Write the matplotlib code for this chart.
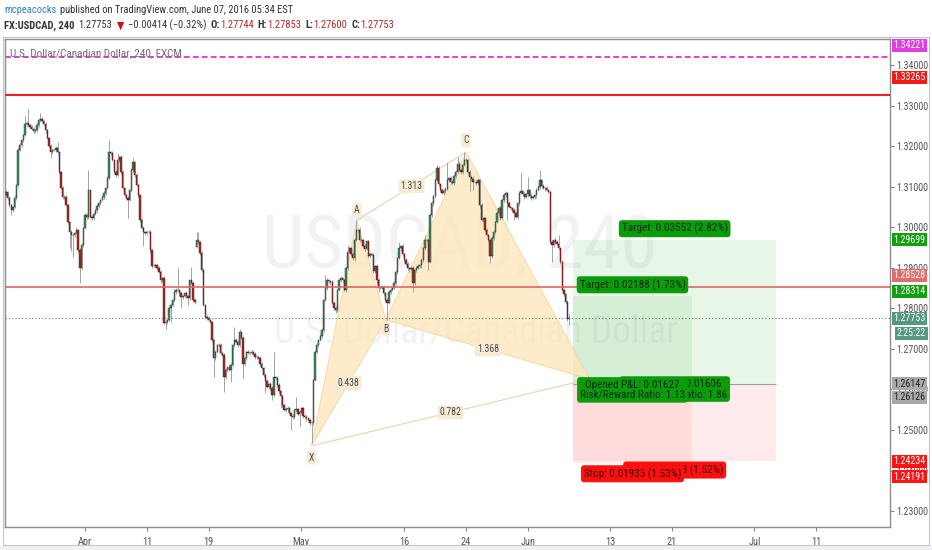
import numpy as np
import matplotlib
matplotlib.use('Agg')
import matplotlib.pyplot as plt
import matplotlib.font_manager as fm
from matplotlib.patches import Rectangle, Polygon
from matplotlib.offsetbox import TextArea, HPacker, AnchoredOffsetbox

_names = {f.name for f in fm.fontManager.ttflist}
NARROW = next((n for n in ['Liberation Sans Narrow', 'Roboto Condensed', 'DejaVu Sans'] if n in _names), 'DejaVu Sans')
FAM = [NARROW, 'DejaVu Sans']
plt.rcParams['font.family'] = FAM
plt.rcParams['font.stretch'] = 'condensed'

# ---- 4H candles, USDCAD, first bar = 3rd slot of 2016-03-22 ----
first_session = '2016-03-22'
first_slot = 2
closes = [
    1.3088, 1.3073, 1.3055, 1.3043, 1.3050, 1.3073, 1.3105, 1.3191, 1.3204, 1.3216,
    1.3228, 1.3256, 1.3258, 1.3253, 1.3248, 1.3243, 1.3238, 1.3240, 1.3253, 1.3265,
    1.3268, 1.3263, 1.3256, 1.3240, 1.3221, 1.3201, 1.3186, 1.3191, 1.3191, 1.3196,
    1.3186, 1.3137, 1.3097, 1.3075, 1.3075, 1.3055, 1.3013, 1.2989, 1.2981, 1.2981,
    1.2986, 1.2994, 1.2944, 1.2900, 1.2957, 1.2999, 1.3031, 1.3026, 1.3093, 1.3026,
    1.3023, 1.3033, 1.3043, 1.3053, 1.3060, 1.3068, 1.3075, 1.3085, 1.3097, 1.3122,
    1.3186, 1.3184, 1.3167, 1.3137, 1.3130, 1.3167, 1.3174, 1.3137, 1.3097, 1.3080,
    1.3073, 1.3068, 1.3093, 1.3142, 1.3162, 1.3130, 1.3105, 1.3080, 1.3018, 1.2999,
    1.2989, 1.2986, 1.2989, 1.2989, 1.2944, 1.2905, 1.2905, 1.2907, 1.2900, 1.2890,
    1.2870, 1.2875, 1.2764, 1.2767, 1.2772, 1.2801, 1.2808, 1.2821, 1.2841, 1.2846,
    1.2846, 1.2838, 1.2828, 1.2830, 1.2838, 1.2830, 1.2826, 1.2870, 1.2863, 1.2821,
    1.2816, 1.2969, 1.2964, 1.2937, 1.2895, 1.2808, 1.2779, 1.2777, 1.2772, 1.2767,
    1.2722, 1.2678, 1.2693, 1.2710, 1.2710, 1.2690, 1.2685, 1.2631, 1.2648, 1.2656,
    1.2648, 1.2661, 1.2710, 1.2722, 1.2717, 1.2710, 1.2742, 1.2727, 1.2663, 1.2678,
    1.2693, 1.2690, 1.2690, 1.2693, 1.2688, 1.2680, 1.2680, 1.2678, 1.2663, 1.2653,
    1.2636, 1.2621, 1.2606, 1.2613, 1.2604, 1.2586, 1.2631, 1.2628, 1.2611, 1.2596,
    1.2584, 1.2561, 1.2549, 1.2551, 1.2554, 1.2542, 1.2534, 1.2532, 1.2549, 1.2551,
    1.2539, 1.2544, 1.2554, 1.2534, 1.2532, 1.2529, 1.2524, 1.2517, 1.2517, 1.2623,
    1.2693, 1.2710, 1.2722, 1.2732, 1.2747, 1.2821, 1.2851, 1.2870, 1.2868, 1.2865,
    1.2814, 1.2801, 1.2796, 1.2846, 1.2870, 1.2875, 1.2870, 1.2846, 1.2900, 1.2939,
    1.2949, 1.2934, 1.2924, 1.2969, 1.2994, 1.2994, 1.2969, 1.2969, 1.2954, 1.2947,
    1.2966, 1.2929, 1.2934, 1.2932, 1.2892, 1.2905, 1.2870, 1.2851, 1.2851, 1.2853,
    1.2838, 1.2821, 1.2814, 1.2841, 1.2846, 1.2851, 1.2863, 1.2890, 1.2924, 1.2949,
    1.2954, 1.2934, 1.2919, 1.2910, 1.2900, 1.2897, 1.2900, 1.2863, 1.2895, 1.2900,
    1.2905, 1.2907, 1.2919, 1.2949, 1.2969, 1.2969, 1.2915, 1.3031, 1.3060, 1.3077,
    1.3117, 1.3147, 1.3107, 1.3093, 1.3085, 1.3090, 1.3095, 1.3117, 1.3122, 1.3112,
    1.3110, 1.3127, 1.3137, 1.3157, 1.3142, 1.3137, 1.3154, 1.3167, 1.3167, 1.3137,
    1.3125, 1.3120, 1.3112, 1.3112, 1.3110, 1.3117, 1.3055, 1.3018, 1.3023, 1.2994,
    1.2981, 1.2969, 1.2929, 1.2974, 1.2989, 1.3013, 1.3036, 1.3048, 1.3023, 1.3068,
    1.3080, 1.3085, 1.3060, 1.3050, 1.3048, 1.3043, 1.3036, 1.3026, 1.3060, 1.3085,
    1.3090, 1.3082, 1.3075, 1.3082, 1.3093, 1.3078, 1.3073, 1.3075, 1.3080, 1.3093,
    1.3100, 1.3117, 1.3102, 1.3097, 1.3097, 1.3093, 1.3088, 1.2964, 1.2957, 1.2969,
    1.2964, 1.2959, 1.2949, 1.2915, 1.2846, 1.2836, 1.2816, 1.2774, 1.27753,
]
# upper / lower wick beyond the body, in pips
up_wick = [
    4, 3, 5, 3, 4, 6, 3, 5, 4, 3, 4, 20, 5, 35, 3, 4, 5, 3, 4, 6,
    15, 4, 3, 5, 4, 3, 6, 4, 3, 5, 15, 4, 3, 5, 4, 6, 3, 4, 5, 3,
    4, 6, 3, 5, 4, 3, 5, 4, 50, 3, 4, 5, 3, 6, 4, 3, 5, 4, 3, 6,
    30, 4, 5, 3, 4, 17, 3, 5, 4, 3, 6, 4, 3, 5, 10, 3, 4, 6, 3, 5,
    4, 3, 5, 4, 6, 3, 4, 5, 3, 4, 5, 3, 6, 4, 3, 5, 4, 3, 6, 4,
    54, 3, 5, 4, 3, 6, 4, 3, 32, 5, 4, 20, 20, 3, 5, 4, 3, 6, 4, 5,
    3, 4, 5, 3, 6, 4, 3, 5, 4, 3, 6, 4, 3, 32, 5, 4, 8, 3, 5, 4,
    3, 5, 4, 6, 3, 4, 5, 3, 4, 6, 3, 5, 4, 3, 5, 4, 62, 3, 5, 4,
    3, 6, 4, 3, 5, 4, 3, 6, 4, 30, 3, 5, 4, 3, 6, 4, 3, 5, 4, 3,
    5, 4, 3, 6, 4, 3, 32, 5, 4, 3, 5, 4, 6, 3, 4, 5, 3, 4, 6, 17,
    4, 3, 5, 4, 25, 3, 6, 4, 3, 5, 4, 3, 6, 4, 5, 3, 4, 6, 3, 5,
    4, 3, 5, 4, 6, 3, 4, 5, 3, 15, 4, 6, 3, 5, 4, 3, 6, 4, 3, 5,
    4, 3, 6, 4, 12, 5, 3, 4, 6, 3, 5, 8, 4, 3, 5, 4, 6, 45, 3, 4,
    5, 3, 4, 17, 6, 3, 5, 20, 4, 3, 5, 4, 6, 3, 4, 5, 3, 6, 4, 3,
    5, 4, 3, 6, 4, 3, 5, 4, 6, 3, 4, 5, 3, 6, 4, 3, 5, 4, 3, 6,
    44, 3, 5, 4, 32, 3, 6, 4, 3, 5, 4, 25, 3, 5, 4, 6, 3, 4, 5, 3,
    4, 6, 22, 3, 5, 4, 3, 4, 10,
]
dn_wick = [
    3, 5, 4, 12, 5, 3, 4, 6, 3, 5, 4, 3, 5, 4, 6, 3, 4, 5, 3, 4,
    5, 3, 4, 6, 3, 5, 15, 4, 3, 5, 4, 6, 3, 4, 5, 3, 4, 40, 40, 55,
    4, 3, 5, 37, 4, 6, 3, 5, 4, 3, 5, 4, 3, 6, 4, 5, 3, 4, 6, 3,
    4, 5, 3, 4, 6, 3, 5, 4, 3, 5, 4, 45, 3, 5, 4, 6, 3, 4, 5, 3,
    35, 4, 5, 3, 6, 4, 3, 5, 4, 3, 6, 4, 3, 15, 5, 4, 35, 3, 5, 4,
    3, 6, 27, 4, 3, 5, 17, 4, 3, 6, 4, 3, 5, 4, 6, 3, 4, 5, 3, 4,
    5, 47, 4, 3, 6, 4, 3, 37, 5, 4, 3, 30, 4, 5, 3, 6, 4, 3, 35, 4,
    5, 3, 4, 6, 3, 5, 4, 3, 5, 4, 6, 30, 3, 4, 5, 12, 4, 3, 6, 4,
    30, 5, 3, 4, 6, 3, 35, 4, 5, 3, 4, 30, 3, 5, 4, 6, 3, 4, 49, 5,
    3, 4, 6, 3, 5, 4, 3, 5, 4, 6, 3, 4, 8, 5, 3, 4, 6, 3, 5, 4,
    3, 5, 4, 6, 3, 4, 5, 3, 4, 6, 3, 5, 4, 3, 5, 4, 10, 10, 4, 3,
    5, 4, 42, 3, 6, 4, 3, 5, 4, 3, 6, 4, 5, 3, 4, 6, 3, 22, 4, 5,
    3, 4, 6, 3, 5, 4, 20, 3, 4, 6, 5, 3, 4, 5, 3, 6, 4, 3, 5, 4,
    3, 6, 4, 5, 3, 4, 6, 3, 5, 4, 35, 4, 20, 3, 5, 4, 6, 3, 4, 5,
    3, 4, 17, 5, 4, 6, 3, 5, 4, 3, 6, 4, 42, 3, 5, 4, 17, 3, 4, 6,
    3, 5, 4, 3, 6, 4, 5, 3, 4, 6, 3, 4, 5, 3, 6, 4, 3, 5, 42, 4,
    5, 3, 4, 6, 3, 4, 5, 4, 14,
]
# opens that differ from the previous close (first bar, weekend gap, last bar)
gap_opens = {0: 1.3080, 111: 1.2952, 328: 1.27744}
last_price = 1.27753

# x axis: trading days counted from 2016-04-01
tick_dates = ['2016-04-01', '2016-04-11', '2016-04-19', '2016-05-02', '2016-05-16',
              '2016-05-24', '2016-06-01', '2016-06-13', '2016-06-21', '2016-07-01', '2016-07-11']
tick_labels = ['Apr', '11', '19', 'May', '16', '24', 'Jun', '13', '21', 'Jul', '11']

# horizontal levels
level_magenta = 1.34221
level_red = 1.33265
level_salmon = 1.28528

# XABCD pattern (trading day, price)
pat_names = ['X', 'A', 'B', 'C', 'D']
pat_x = [22.0, 26.4, 29.2, 37.0, 49.0]
pat_y = [1.2461, 1.3018, 1.2772, 1.3186, 1.2626]
pat_ratios = [('X', 'B', '0.438'), ('A', 'C', '1.313'), ('B', 'D', '1.368'), ('X', 'D', '0.782')]

# two long-position tools
tool_start = [47.41, 47.41]
tool_end = [67.09, 58.9]
tool_entry = [1.26147, 1.26126]
tool_target = [1.29699, 1.28314]
tool_stop = [1.24234, 1.24191]

# ---------------------------------------------------------------
closes = np.array(closes)
n = len(closes)
opens = np.r_[closes[0], closes[:-1]]
for k, v in gap_opens.items():
    opens[k] = v
highs = np.maximum(opens, closes) + np.array(up_wick) * 1e-4
lows = np.minimum(opens, closes) - np.array(dn_wick) * 1e-4
day0 = np.busday_count('2016-04-01', first_session)
bar_x = day0 + (np.arange(n) + first_slot) / 6.0

W, H = 932, 550
L, R, T, B = 5, 890, 39, 527
fig = plt.figure(figsize=(W / 100, H / 100), dpi=100)
fig.patch.set_facecolor('white')
ax = fig.add_axes([L / W, 1 - B / H, (R - L) / W, (B - T) / H])
ax.set_xlim(-7.77, 78.16)
ax.set_ylim(1.22605, 1.34654)

# watermark
ax.text(0.514, 0.572, 'USDCAD, 240', transform=ax.transAxes, ha='center', va='center',
        fontsize=54, color='#7d8792', alpha=0.1, zorder=1.5)
ax.text(0.532, 0.398, 'U.S. Dollar/Canadian Dollar', transform=ax.transAxes, ha='center',
        va='center', fontsize=27, color='#7d8792', alpha=0.1, zorder=1.5)

# position tools
for i in range(2):
    x0, x1 = tool_start[i], tool_end[i]
    ax.add_patch(Rectangle((x0, tool_entry[i]), x1 - x0, tool_target[i] - tool_entry[i],
                           fc='#9ad69a', ec='none', alpha=0.22, zorder=1))
    ax.add_patch(Rectangle((x0, tool_stop[i]), x1 - x0, tool_entry[i] - tool_stop[i],
                           fc='#ffa8a8', ec='none', alpha=0.22, zorder=1))
    ax.hlines(tool_entry[i], x0, x1, color='#a0a0a0', lw=0.8, zorder=2)

# harmonic pattern
P = dict(zip(pat_names, zip(pat_x, pat_y)))
for tri in (['X', 'A', 'B'], ['B', 'C', 'D']):
    ax.add_patch(Polygon([P[k] for k in tri], closed=True, fc='#fde6bc', ec='#f2d6a2',
                         lw=0.8, alpha=0.8, zorder=2))
for a, b in (('A', 'C'), ('X', 'D')):
    ax.plot([P[a][0], P[b][0]], [P[a][1], P[b][1]], color='#ead8b6', lw=0.9, zorder=2)
for a, b, r in pat_ratios:
    mx, my = (P[a][0] + P[b][0]) / 2, (P[a][1] + P[b][1]) / 2
    ax.text(mx, my, r, ha='center', va='center', fontsize=7, color='#4a4a4a', zorder=6,
            bbox=dict(boxstyle='round,pad=0.2', fc='#f7ebd3', ec='none'))
for k, dy in zip(pat_names[:4], [-12, 10, -9, 12]):
    ax.annotate(k, P[k], xytext=(0, dy * 0.72), textcoords='offset points', ha='center',
                va='center', fontsize=7, color='#4a4a4a', zorder=6,
                bbox=dict(boxstyle='round,pad=0.2', fc='#f7ebd3', ec='none'))

# levels
ax.axhline(level_magenta, color='#e040e0', lw=1.4, ls=(0, (3, 1.6)), zorder=5)
ax.axhline(level_red, color='#ee2020', lw=1.5, zorder=5)
ax.axhline(level_salmon, color='#e06666', lw=1.2, zorder=5)
ax.axhline(last_price, color='#3f8a69', lw=0.8, ls=(0, (1, 2)), zorder=5)

# candles
up = closes >= opens
ax.vlines(bar_x, lows, highs, color='#a3a3a3', lw=0.7, zorder=3)
body_lo = np.minimum(opens, closes)
body_h = np.maximum(np.abs(closes - opens), 0.00008)
ax.bar(bar_x[up], body_h[up], bottom=body_lo[up], width=0.13, color='#3b8c62',
       edgecolor='#223328', lw=0.3, zorder=4)
ax.bar(bar_x[~up], body_h[~up], bottom=body_lo[~up], width=0.13, color='#b3261e',
       edgecolor='#331616', lw=0.3, zorder=4)

# position tool labels (wide tool first, narrow tool on top)
def tool_box(x, y, text, fc, tc, dy, z):
    ax.annotate(text, (x, y), xytext=(0, dy * 0.72), textcoords='offset points', ha='center',
                va='center', fontsize=8, color=tc, zorder=z, linespacing=1.0,
                bbox=dict(boxstyle='round,pad=0.25,rounding_size=0.3', fc=fc, ec='none'))

for i, z in ((0, 8), (1, 9)):
    mid = (tool_start[i] + tool_end[i]) / 2
    e, t, s = tool_entry[i], tool_target[i], tool_stop[i]
    tool_box(mid, t, f'Target: {t - e:.5f} ({(t - e) / e * 100:.2f}%)', '#0b9c0b', '#0f2a0f', 11, z)
    tool_box(mid, e, f'Opened P&L: {last_price - e:.5f}\nRisk/Reward Ratio: {(t - e) / (e - s):.2f}',
             '#0b9c0b', '#0f2a0f', -5.5, z)
    tool_box(mid, s, f'Stop: {e - s:.5f} ({(e - s) / e * 100:.2f}%)', '#ff1010', '#3a0000',
             -9 if i == 0 else -11, z)

# axes styling
for sp in ax.spines.values():
    sp.set_color('#8c8c8c')
    sp.set_linewidth(1.0)
ax.yaxis.tick_right()
ax.set_yticks(np.arange(1.23, 1.3451, 0.01))
ax.yaxis.set_major_formatter(plt.FuncFormatter(lambda v, p: f'{v:.5f}'))
ax.tick_params(axis='y', labelsize=7.2, labelcolor='#555555', color='#888888', length=3, pad=1.5)
ax.set_xticks([np.busday_count('2016-04-01', d) for d in tick_dates])
ax.set_xticklabels(tick_labels)
ax.tick_params(axis='x', labelsize=7.5, labelcolor='#555555', color='#888888', length=3, pad=4)

# price tags on the right scale
tags = [(level_magenta, f'{level_magenta:.5f}', '#e03ee0', 'white', -11.5),
        (level_red, f'{level_red:.5f}', '#f01c1c', 'white', -18),
        (tool_target[0], f'{tool_target[0]:.5f}', '#11a011', 'white', 0),
        (level_salmon, f'{level_salmon:.5f}', '#e06c6c', 'white', -12),
        (tool_target[1], f'{tool_target[1]:.5f}', '#11a011', 'white', -4.5),
        (last_price, f'{last_price:.5f}', '#559a7e', 'white', 0),
        (tool_entry[0], f'{tool_entry[0]:.5f}', '#a9a9a9', '#222222', 0),
        (tool_entry[1], f'{tool_entry[1]:.5f}', '#a9a9a9', '#222222', 13),
        (tool_stop[0], f'{tool_stop[0]:.5f}', '#ff1414', 'white', 0),
        (tool_stop[1], f'{tool_stop[1]:.5f}', '#ff1414', 'white', 14)]
for price, txt, bg, fg, off in tags:
    ax.annotate(txt, (1.0, price), xycoords=('axes fraction', 'data'), xytext=(2.5, -off * 0.72),
                textcoords='offset points', ha='left', va='center', fontsize=7.2, color=fg,
                annotation_clip=False, zorder=20,
                bbox=dict(boxstyle='square,pad=0.15', fc=bg, ec='none'))
ax.annotate('2:25:22', (1.0, last_price), xycoords=('axes fraction', 'data'), xytext=(5, -15 * 0.72),
            textcoords='offset points', ha='left', va='center', fontsize=7.2, color='white',
            annotation_clip=False, zorder=20,
            bbox=dict(boxstyle='square,pad=0.15', fc='#559a7e', ec='none'))

# frame around chart + axes
fig.add_artist(Rectangle((3 / W, 1 - 545 / H), 926 / W, 508 / H, transform=fig.transFigure,
                         fill=False, ec='#c4c4c4', lw=0.8))
fig.add_artist(Rectangle((0, 0), 1, 4 / H, transform=fig.transFigure, fc='#eef1f4', ec='none'))

# header
def header(groups, y_px):
    outer = []
    for parts in groups:
        inner = [TextArea(s, textprops=dict(color=c, fontsize=7.6, fontweight=w, family=FAM))
                 for s, c, w in parts]
        outer.append(HPacker(children=inner, align='baseline', pad=0, sep=0))
    pack = HPacker(children=outer, align='baseline', pad=0, sep=3)
    box = AnchoredOffsetbox(loc='center left', child=pack, pad=0, borderpad=0, frameon=False,
                            bbox_to_anchor=(4 / W, 1 - y_px / H), bbox_transform=fig.transFigure)
    fig.add_artist(box)

dark, red = '#333333', '#b22a2a'
header([[('mcpeacocks', '#2e86c1', 'normal')],
        [('published on TradingView.com, June 07, 2016 05:34 EST', dark, 'normal')]], 10)
header([[('FX:USDCAD, 240', dark, 'bold')], [('1.27753', dark, 'normal')],
        [('\u25bc', '#d01010', 'normal')], [('\u22120.00414 (\u22120.32%)', dark, 'normal')],
        [('O:', dark, 'bold'), ('1.27744', red, 'normal')],
        [('H:', dark, 'bold'), ('1.27853', red, 'normal')],
        [('L:', dark, 'bold'), ('1.27600', red, 'normal')],
        [('C:', dark, 'bold'), ('1.27753', red, 'normal')]], 25)
fig.text(10 / W, 1 - 53 / H, 'U.S. Dollar/Canadian Dollar, 240, FXCM', fontsize=8,
         color='#6e6e6e', va='center', ha='left')

fig.savefig('out.png', dpi=100)
